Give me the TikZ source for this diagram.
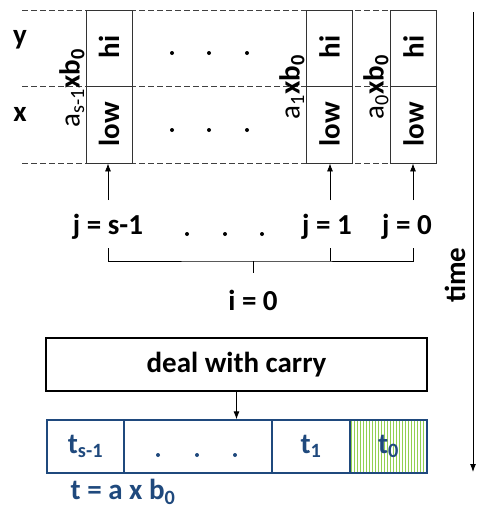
\documentclass[tikz,border=0pt]{standalone}
\usepackage{fontspec}
\setmainfont{Carlito}
\usetikzlibrary{arrows.meta}
\definecolor{tblue}{RGB}{31,73,125}
\definecolor{hatchgreen}{RGB}{146,208,80}
\begin{document}
\begin{tikzpicture}[x=1pt,y=-1pt,
  every node/.style={font=\fontsize{29}{31}\selectfont\bfseries, inner sep=0pt},
  guide/.style={draw=black!75, dashed, dash pattern=on 6pt off 3pt, line width=0.8pt},
  cell/.style={draw=tblue, line width=1.3pt, minimum height=53pt, text=tblue},
  conn/.style={draw=black, line width=0.8pt},
  arr/.style={conn, -{Latex[length=8pt,width=6pt]}},
  lab/.style={rotate=90},
  dot/.style={circle, fill=black, minimum size=4pt}
]
\useasboundingbox (0,0) rectangle (477,517);
% dashed guides
\coordinate (g1a) at (22,10);  \coordinate (g1b) at (391,10);
\coordinate (g2a) at (22,86);  \coordinate (g2b) at (391,86);
\coordinate (g3a) at (22,163); \coordinate (g3b) at (391,163);
\draw[guide] (g1a) -- (g1b);
\draw[guide] (g2a) -- (g2b);
\draw[guide] (g3a) -- (g3b);
% boxes
\foreach \n/\cx in {A/109, B/329.5, C/413.5}{
  \node[draw=black!80, line width=0.8pt, minimum width=46pt, minimum height=76pt, fill=white] (\n hi) at (\cx,48) {};
  \node[draw=black!80, line width=0.8pt, minimum width=46pt, minimum height=77pt, fill=white] (\n lo) at (\cx,124.5) {};
  \node[lab] (\n hit) at (\cx,47) {hi};
  \node[lab] (\n lot) at (\cx,124) {low};
}
\node[lab] (la) at (72,88) {\mdseries a\textsubscript{s-1}\bfseries xb\textsubscript{0}};
\node[lab] (lb) at (292,87) {\mdseries a\textsubscript{1}\bfseries xb\textsubscript{0}};
\node[lab] (lc) at (376,87) {\mdseries a\textsubscript{0}\bfseries xb\textsubscript{0}};
\node (ly) at (20,40) {y};
\node (lx) at (20,114) {x};
% dots
\foreach \i/\dx in {1/172,2/209,3/247}{
  \node[dot] (dt\i) at (\dx,53) {};
  \node[dot] (db\i) at (\dx,130) {};
}
% j labels
\node (js) at (108,227) {j = s-1};
\node (j1) at (327,227) {j = 1};
\node (j0) at (407,227) {j = 0};
\foreach \i/\dx in {1/187,2/225,3/262}{
  \node[dot] (dj\i) at (\dx,234) {};
}
\coordinate (sa) at (108,200); \coordinate (sb) at (330,200); \coordinate (sc) at (413,200);
\draw[arr] (sa) -- (Alo.south -| sa);
\draw[arr] (sb) -- (Blo.south -| sb);
\draw[arr] (sc) -- (Clo.south -| sc);
% bracket
\coordinate (b1) at (108,248); \coordinate (b2) at (330,248); \coordinate (b3) at (413,248);
\coordinate (bm) at (253,261); \coordinate (bt) at (253,273);
\draw[conn] (b1) |- (bm) -| (b3);
\draw[conn] (b2) -- (b2 |- bm);
\draw[conn] (bm) -- (bt);
\node (i0) at (253,300) {i = 0};
% time
\coordinate (ts) at (473,12); \coordinate (te) at (473,472);
\draw[arr, line width=0.9pt] (ts) -- (te);
\node[lab] (time) at (455,275) {time};
% deal with carry
\node[draw=black, line width=1.3pt, minimum width=381pt, minimum height=53pt] (deal) at (236.5,364.5) {deal with carry};
% t row
\node[cell, minimum width=77pt] (t3) at (85.5,446.5) {t\textsubscript{s-1}};
\node[cell, minimum width=148pt] (t2) at (198,446.5) {};
\node[cell, minimum width=78pt] (t1) at (311,446.5) {t\textsubscript{1}};
\foreach \k in {0,...,25}{
  \draw[hatchgreen, line width=0.7pt] (351.5+3*\k,421) -- (351.5+3*\k,472);
}
\node[cell, minimum width=77pt] (t0) at (388.5,446.5) {t\textsubscript{0}};
\foreach \i/\dx in {1/158,2/197,3/235}{
  \node[dot, fill=tblue] (dd\i) at (\dx,455) {};
}
\draw[arr] (deal.south) -- (deal.south |- t2.north);
\node[text=tblue] (teq) at (123,492) {t = a x b\textsubscript{0}};
\end{tikzpicture}
\end{document}
